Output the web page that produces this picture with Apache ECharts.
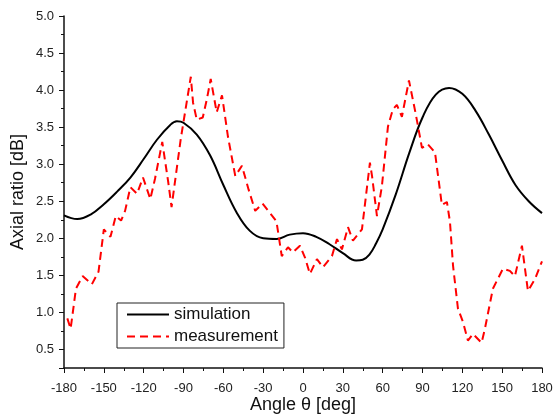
<!DOCTYPE html>
<html>
<head>
<meta charset="utf-8">
<script src="https://cdn.jsdelivr.net/npm/echarts@6/dist/echarts.min.js"></script>
<style>
  html, body { margin: 0; padding: 0; background: #fff; }
  #chart { width: 553px; height: 416px; }
</style>
</head>
<body>
<div id="chart"></div>
<script>
  // simulation curve (smooth)
  var simAngle = [-180, -170, -160, -150, -140, -130, -120, -110, -100, -95, -90, -80, -70, -60, -50, -40, -30, -20, -10, 0, 10, 20, 30, 40, 45, 50, 55, 60, 70, 80, 90, 100, 110, 120, 130, 140, 150, 160, 170, 180];
  var simValue = [2.31, 2.26, 2.32, 2.46, 2.63, 2.82, 3.07, 3.33, 3.53, 3.58, 3.56, 3.40, 3.12, 2.72, 2.35, 2.10, 2.00, 1.99, 2.05, 2.07, 2.02, 1.92, 1.80, 1.70, 1.71, 1.78, 1.93, 2.12, 2.60, 3.15, 3.63, 3.94, 4.03, 3.95, 3.72, 3.40, 3.05, 2.72, 2.50, 2.34];

  // measured points
  var measAngle = [-177.5, -175, -171, -166, -159, -154, -150, -145, -141, -137, -134, -130, -125, -120.5, -115, -111.5, -106, -101.5, -99, -92, -84.5, -82.8, -80, -75.5, -72.5, -69.5, -65, -61, -56.5, -51, -46, -41, -36, -30.5, -20, -16, -11.3, -7.6, -2.3, 1.5, 5.2, 10.5, 15, 21.8, 25.6, 29.3, 33.9, 37.6, 44.4, 50.4, 52, 55.7, 59.4, 64, 67.7, 70.7, 74.5, 79.8, 85, 89.6, 94, 99.4, 104.6, 108.4, 110.7, 113, 116.7, 120.5, 124.2, 128, 134.5, 137, 143, 150.6, 155.8, 159.6, 164.9, 169.4, 174.7, 180];
  var measValue = [0.92, 0.78, 1.32, 1.49, 1.38, 1.55, 2.12, 2.02, 2.30, 2.24, 2.37, 2.69, 2.60, 2.82, 2.53, 2.80, 3.30, 2.76, 2.42, 3.35, 4.18, 3.83, 3.60, 3.63, 3.87, 4.15, 3.70, 3.93, 3.37, 2.84, 2.98, 2.66, 2.37, 2.47, 2.23, 1.76, 1.88, 1.81, 1.90, 1.74, 1.52, 1.72, 1.61, 1.76, 1.99, 1.85, 2.15, 1.97, 2.12, 3.02, 2.84, 2.30, 2.70, 3.51, 3.74, 3.80, 3.64, 4.13, 3.67, 3.22, 3.27, 3.16, 2.45, 2.49, 2.22, 1.63, 1.05, 0.87, 0.62, 0.71, 0.59, 0.78, 1.32, 1.59, 1.56, 1.49, 1.90, 1.29, 1.45, 1.69];

  var xTicks = [-180, 180, 30];

  function pairs(xs, ys) {
    var out = [];
    for (var i = 0; i < xs.length; i++) {
      out.push([xs[i], ys[i]]);
    }
    return out;
  }

  var myChart = echarts.init(document.getElementById('chart'));
  var font = 'Liberation Sans, Arial, sans-serif';
  myChart.setOption({
    animation: false,
    backgroundColor: '#fff',
    textStyle: { fontFamily: font },
    grid: {
      left: 64,
      right: 11,
      top: 16,
      bottom: 48,
      outerBoundsMode: 'none'
    },
    legend: {
      left: 117,
      top: 303,
      orient: 'vertical',
      data: ['simulation', 'measurement'],
      itemWidth: 42,
      itemHeight: 12,
      itemGap: 5,
      padding: [3, 6, 3, 9],
      borderColor: '#222',
      borderWidth: 1,
      itemStyle: { opacity: 0 },
      textStyle: { fontSize: 17, color: '#111', fontFamily: font }
    },
    xAxis: {
      type: 'value',
      min: xTicks[0],
      max: xTicks[1],
      interval: xTicks[2],
      name: 'Angle \u03b8 [deg]',
      nameLocation: 'middle',
      nameGap: 28,
      nameMoveOverlap: false,
      nameTextStyle: { fontSize: 18, color: '#111', verticalAlign: 'top' },
      axisLine: { onZero: false, lineStyle: { color: '#111', width: 1.5 } },
      axisTick: { length: 5, lineStyle: { color: '#111' } },
      minorTick: { show: true, splitNumber: 2, length: 3, lineStyle: { color: '#111' } },
      splitLine: { show: false },
      axisLabel: { fontSize: 13, color: '#222', margin: 14 }
    },
    yAxis: {
      type: 'value',
      min: 0.25,
      max: 5.0,
      splitNumber: 10,
      name: 'Axial ratio [dB]',
      nameLocation: 'middle',
      nameGap: 37,
      nameMoveOverlap: false,
      nameTextStyle: { fontSize: 18, color: '#111' },
      axisLine: { show: true, onZero: false, lineStyle: { color: '#111', width: 1.5 } },
      axisTick: { show: true, length: 5, lineStyle: { color: '#111' } },
      minorTick: { show: true, splitNumber: 2, length: 3, lineStyle: { color: '#111' } },
      splitLine: { show: false },
      axisLabel: {
        fontSize: 13,
        color: '#222',
        margin: 10,
        formatter: function (v) {
          if (Math.abs(v * 2 - Math.round(v * 2)) > 1e-6) return '';
          return v.toFixed(1);
        }
      }
    },
    series: [{
      name: 'simulation',
      type: 'line',
      data: pairs(simAngle, simValue),
      smooth: 0.4,
      symbol: 'none',
      lineStyle: { color: '#000', width: 2 },
      itemStyle: { color: '#000' }
    }, {
      name: 'measurement',
      type: 'line',
      data: pairs(measAngle, measValue),
      symbol: 'none',
      lineStyle: { color: '#ff0000', width: 2, type: [8, 5] },
      itemStyle: { color: '#ff0000' }
    }]
  });
</script>
</body>
</html>
